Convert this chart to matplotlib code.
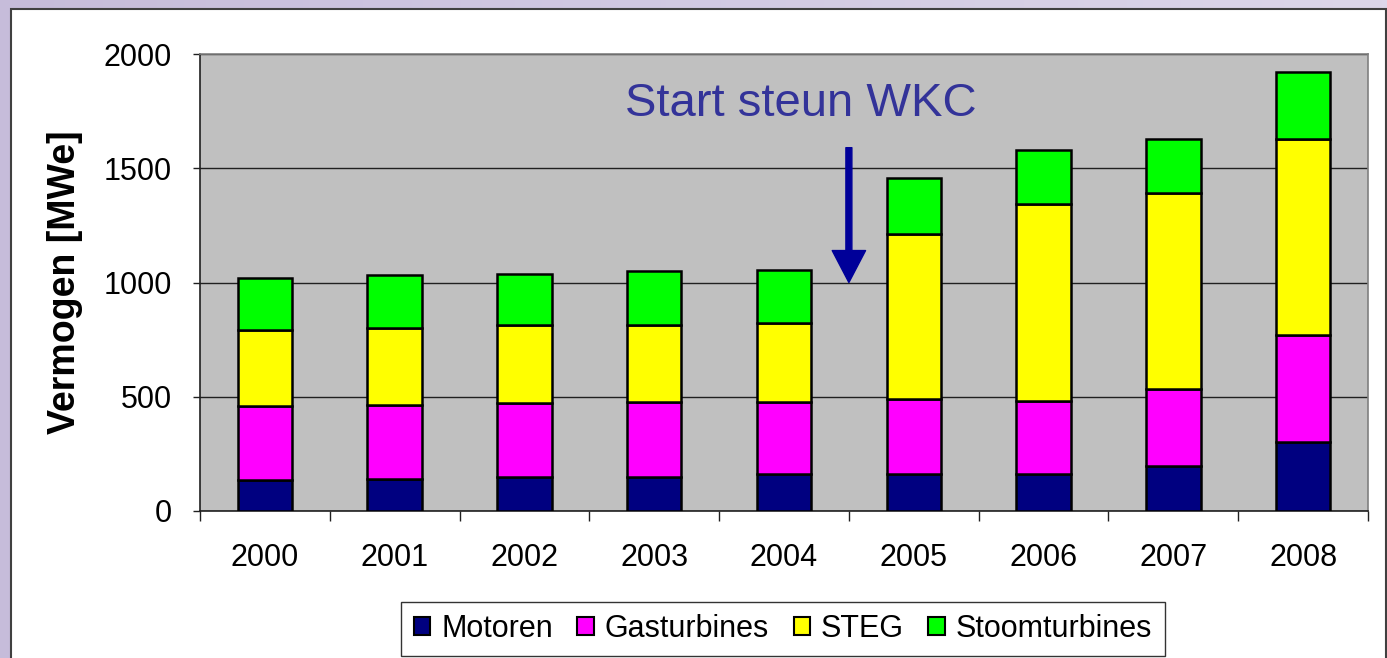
import numpy as np
import matplotlib
matplotlib.use("Agg")
import matplotlib.pyplot as plt
from matplotlib.patches import Rectangle

plt.rcParams['font.family'] = ['Liberation Sans', 'DejaVu Sans']

# data (MWe)
years = ['2000', '2001', '2002', '2003', '2004', '2005', '2006', '2007', '2008']
motoren = [136, 140, 150, 150, 162, 162, 162, 196, 301]
gasturbines = [325, 322, 324, 328, 316, 329, 319, 339, 469]
steg = [330, 340, 340, 336, 343, 720, 864, 855, 859]
stoomturbines = [229, 231, 225, 235, 234, 246, 236, 239, 291]

series = [
    ('Motoren', motoren, '#000080'),
    ('Gasturbines', gasturbines, '#FF00FF'),
    ('STEG', steg, '#FFFF00'),
    ('Stoomturbines', stoomturbines, '#00FF00'),
]

fig = plt.figure(figsize=(13.87, 6.58), dpi=100)

# lavender slide background with white panel
bg = fig.add_axes([0, 0, 1, 1], zorder=-10)
grad = np.linspace(0, 1, 256).reshape(1, -1)
bg.imshow(grad, aspect='auto', extent=[0, 1, 0, 1],
          cmap=matplotlib.colors.LinearSegmentedColormap.from_list('lav', ['#C6BCDA', '#DDD7EA']))
bg.axis('off')
fig.patches.append(Rectangle((11 / 1387, -0.05), 1375 / 1387, 1.05 - 9 / 658,
                             transform=fig.transFigure, facecolor='white',
                             edgecolor='#404040', linewidth=1.5, zorder=-5))

ax = fig.add_axes([200 / 1387, 147 / 658, 1168 / 1387, 457 / 658])
ax.set_facecolor('#C0C0C0')

x = np.arange(len(years))
bottom = np.zeros(len(years))
for name, vals, col in series:
    ax.bar(x, vals, 0.42, bottom=bottom, color=col, edgecolor='black',
           linewidth=1.8, label=name, zorder=3)
    bottom += np.array(vals)

ax.set_xlim(-0.5, len(years) - 0.5)
ax.set_ylim(0, 2000)
ax.set_yticks([0, 500, 1000, 1500, 2000])
ax.yaxis.grid(True, color='#202020', linewidth=1.0, zorder=1)
ax.set_axisbelow(True)

ax.set_xticks(x)
ax.set_xticklabels(years)
ax.set_xticks(np.arange(-0.5, len(years)), minor=True)
ax.tick_params(axis='x', which='major', length=0, pad=23, labelsize=22)
ax.tick_params(axis='x', which='minor', length=7, width=1, direction='out', color='#202020')
ax.tick_params(axis='y', length=5, width=1, direction='out', pad=15, labelsize=22, color='#202020')

for s in ['top', 'right']:
    ax.spines[s].set_color('#808080')
    ax.spines[s].set_linewidth(1.2)
for s in ['left', 'bottom']:
    ax.spines[s].set_color('#202020')
    ax.spines[s].set_linewidth(1.2)

ax.set_ylabel('Vermogen [MWe]', fontsize=27, fontweight='bold')
ax.yaxis.set_label_coords(-0.1, 0.5)

ax.text(4.13, 1780, 'Start steun WKC', color='#333399', fontsize=34,
        ha='center', va='center', zorder=5)
ax.annotate('', xy=(4.5, 1000), xytext=(4.5, 1590),
            arrowprops=dict(facecolor='#000099', edgecolor='#000099', width=4.3,
                            headwidth=24, headlength=23, shrink=0), zorder=5)

leg = fig.legend(loc='center', bbox_to_anchor=(783 / 1387, 1 - 629 / 658), ncol=4,
                 fontsize=22, frameon=True, fancybox=False, edgecolor='black',
                 handlelength=0.55, handleheight=0.55, handletextpad=0.35,
                 columnspacing=0.8, borderpad=0.4, borderaxespad=0)
leg.get_frame().set_linewidth(1.0)
for h in leg.legend_handles:
    h.set_linewidth(1.5)

fig.savefig('out.png', dpi=100)
